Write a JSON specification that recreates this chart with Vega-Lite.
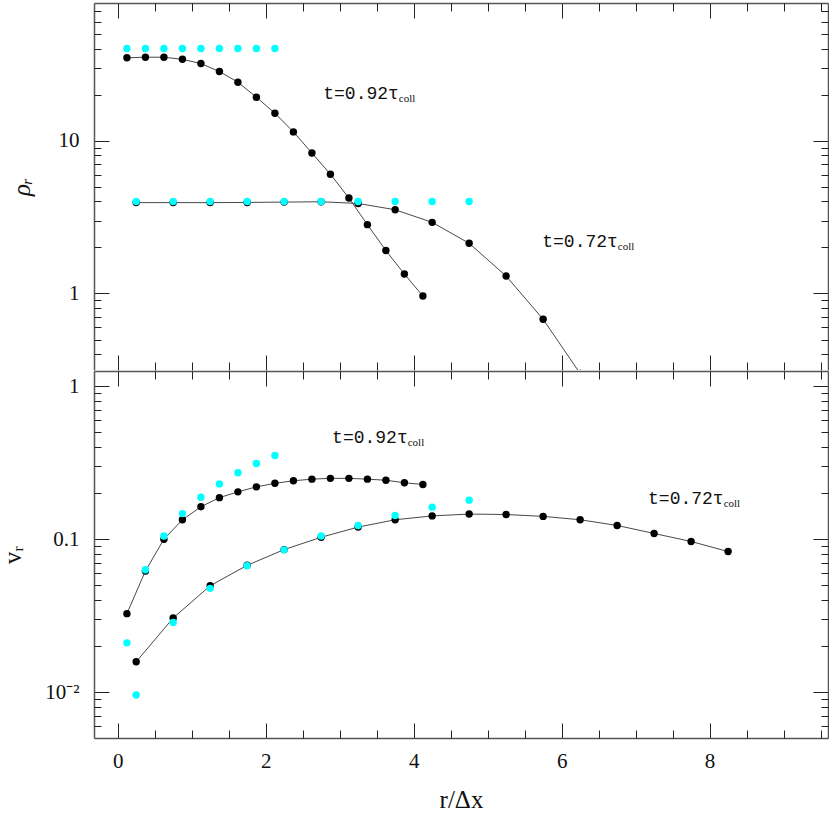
{
  "$schema": "https://vega.github.io/schema/vega-lite/v6.json",
  "padding": {"left": 0, "top": 2, "right": 0, "bottom": 0},
  "background": "white",
  "spacing": -2,
  "config": {
    "view": {"stroke": null},
    "axis": {
      "domainColor": "#555",
      "domainWidth": 1.5,
      "tickColor": "#222",
      "tickWidth": 1,
      "grid": false,
      "labelFont": "Liberation Serif",
      "labelFontSize": 21,
      "labelColor": "#111",
      "titleFont": "Liberation Serif",
      "titleFontSize": 25,
      "titleFontWeight": "normal",
      "titleColor": "#111"
    }
  },
  "datasets": {
    "pts": [
      {"panel": "rho", "t": "0.92", "kind": "sim", "r": 0.125, "val": 34.8},
      {"panel": "rho", "t": "0.92", "kind": "sim", "r": 0.375, "val": 35.1},
      {"panel": "rho", "t": "0.92", "kind": "sim", "r": 0.625, "val": 35.1},
      {"panel": "rho", "t": "0.92", "kind": "sim", "r": 0.875, "val": 34.0},
      {"panel": "rho", "t": "0.92", "kind": "sim", "r": 1.125, "val": 31.9},
      {"panel": "rho", "t": "0.92", "kind": "sim", "r": 1.375, "val": 28.3},
      {"panel": "rho", "t": "0.92", "kind": "sim", "r": 1.625, "val": 24.1},
      {"panel": "rho", "t": "0.92", "kind": "sim", "r": 1.875, "val": 19.2},
      {"panel": "rho", "t": "0.92", "kind": "sim", "r": 2.125, "val": 15.1},
      {"panel": "rho", "t": "0.92", "kind": "sim", "r": 2.375, "val": 11.4},
      {"panel": "rho", "t": "0.92", "kind": "sim", "r": 2.625, "val": 8.3},
      {"panel": "rho", "t": "0.92", "kind": "sim", "r": 2.875, "val": 6.03},
      {"panel": "rho", "t": "0.92", "kind": "sim", "r": 3.125, "val": 4.21},
      {"panel": "rho", "t": "0.92", "kind": "sim", "r": 3.375, "val": 2.82},
      {"panel": "rho", "t": "0.92", "kind": "sim", "r": 3.625, "val": 1.91},
      {"panel": "rho", "t": "0.92", "kind": "sim", "r": 3.875, "val": 1.34},
      {"panel": "rho", "t": "0.92", "kind": "sim", "r": 4.125, "val": 0.962},
      {"panel": "rho", "t": "0.72", "kind": "sim", "r": 0.25, "val": 3.93},
      {"panel": "rho", "t": "0.72", "kind": "sim", "r": 0.75, "val": 3.93},
      {"panel": "rho", "t": "0.72", "kind": "sim", "r": 1.25, "val": 3.93},
      {"panel": "rho", "t": "0.72", "kind": "sim", "r": 1.75, "val": 3.94},
      {"panel": "rho", "t": "0.72", "kind": "sim", "r": 2.25, "val": 3.96},
      {"panel": "rho", "t": "0.72", "kind": "sim", "r": 2.75, "val": 3.98},
      {"panel": "rho", "t": "0.72", "kind": "sim", "r": 3.25, "val": 3.88},
      {"panel": "rho", "t": "0.72", "kind": "sim", "r": 3.75, "val": 3.53},
      {"panel": "rho", "t": "0.72", "kind": "sim", "r": 4.25, "val": 2.92},
      {"panel": "rho", "t": "0.72", "kind": "sim", "r": 4.75, "val": 2.13},
      {"panel": "rho", "t": "0.72", "kind": "sim", "r": 5.25, "val": 1.3},
      {"panel": "rho", "t": "0.72", "kind": "sim", "r": 5.75, "val": 0.678},
      {"panel": "rho", "t": "0.72", "kind": "sim", "r": 6.25, "val": 0.3},
      {"panel": "rho", "t": "0.92", "kind": "analytic", "r": 0.125, "val": 40},
      {"panel": "rho", "t": "0.92", "kind": "analytic", "r": 0.375, "val": 40},
      {"panel": "rho", "t": "0.92", "kind": "analytic", "r": 0.625, "val": 40},
      {"panel": "rho", "t": "0.92", "kind": "analytic", "r": 0.875, "val": 40},
      {"panel": "rho", "t": "0.92", "kind": "analytic", "r": 1.125, "val": 40},
      {"panel": "rho", "t": "0.92", "kind": "analytic", "r": 1.375, "val": 40},
      {"panel": "rho", "t": "0.92", "kind": "analytic", "r": 1.625, "val": 40},
      {"panel": "rho", "t": "0.92", "kind": "analytic", "r": 1.875, "val": 40},
      {"panel": "rho", "t": "0.92", "kind": "analytic", "r": 2.125, "val": 40},
      {"panel": "rho", "t": "0.72", "kind": "analytic", "r": 0.25, "val": 4.0},
      {"panel": "rho", "t": "0.72", "kind": "analytic", "r": 0.75, "val": 4.0},
      {"panel": "rho", "t": "0.72", "kind": "analytic", "r": 1.25, "val": 4.0},
      {"panel": "rho", "t": "0.72", "kind": "analytic", "r": 1.75, "val": 4.0},
      {"panel": "rho", "t": "0.72", "kind": "analytic", "r": 2.25, "val": 4.0},
      {"panel": "rho", "t": "0.72", "kind": "analytic", "r": 2.75, "val": 4.0},
      {"panel": "rho", "t": "0.72", "kind": "analytic", "r": 3.25, "val": 4.0},
      {"panel": "rho", "t": "0.72", "kind": "analytic", "r": 3.75, "val": 4.0},
      {"panel": "rho", "t": "0.72", "kind": "analytic", "r": 4.25, "val": 4.0},
      {"panel": "rho", "t": "0.72", "kind": "analytic", "r": 4.75, "val": 4.0},
      {"panel": "v", "t": "0.92", "kind": "sim", "r": 0.125, "val": 0.0326},
      {"panel": "v", "t": "0.92", "kind": "sim", "r": 0.375, "val": 0.062},
      {"panel": "v", "t": "0.92", "kind": "sim", "r": 0.625, "val": 0.1},
      {"panel": "v", "t": "0.92", "kind": "sim", "r": 0.875, "val": 0.134},
      {"panel": "v", "t": "0.92", "kind": "sim", "r": 1.125, "val": 0.163},
      {"panel": "v", "t": "0.92", "kind": "sim", "r": 1.375, "val": 0.187},
      {"panel": "v", "t": "0.92", "kind": "sim", "r": 1.625, "val": 0.204},
      {"panel": "v", "t": "0.92", "kind": "sim", "r": 1.875, "val": 0.22},
      {"panel": "v", "t": "0.92", "kind": "sim", "r": 2.125, "val": 0.232},
      {"panel": "v", "t": "0.92", "kind": "sim", "r": 2.375, "val": 0.241},
      {"panel": "v", "t": "0.92", "kind": "sim", "r": 2.625, "val": 0.247},
      {"panel": "v", "t": "0.92", "kind": "sim", "r": 2.875, "val": 0.25},
      {"panel": "v", "t": "0.92", "kind": "sim", "r": 3.125, "val": 0.25},
      {"panel": "v", "t": "0.92", "kind": "sim", "r": 3.375, "val": 0.247},
      {"panel": "v", "t": "0.92", "kind": "sim", "r": 3.625, "val": 0.243},
      {"panel": "v", "t": "0.92", "kind": "sim", "r": 3.875, "val": 0.234},
      {"panel": "v", "t": "0.92", "kind": "sim", "r": 4.125, "val": 0.228},
      {"panel": "v", "t": "0.72", "kind": "sim", "r": 0.25, "val": 0.0158},
      {"panel": "v", "t": "0.72", "kind": "sim", "r": 0.75, "val": 0.0305},
      {"panel": "v", "t": "0.72", "kind": "sim", "r": 1.25, "val": 0.0496},
      {"panel": "v", "t": "0.72", "kind": "sim", "r": 1.75, "val": 0.0675},
      {"panel": "v", "t": "0.72", "kind": "sim", "r": 2.25, "val": 0.0855},
      {"panel": "v", "t": "0.72", "kind": "sim", "r": 2.75, "val": 0.103},
      {"panel": "v", "t": "0.72", "kind": "sim", "r": 3.25, "val": 0.12},
      {"panel": "v", "t": "0.72", "kind": "sim", "r": 3.75, "val": 0.134},
      {"panel": "v", "t": "0.72", "kind": "sim", "r": 4.25, "val": 0.142},
      {"panel": "v", "t": "0.72", "kind": "sim", "r": 4.75, "val": 0.146},
      {"panel": "v", "t": "0.72", "kind": "sim", "r": 5.25, "val": 0.145},
      {"panel": "v", "t": "0.72", "kind": "sim", "r": 5.75, "val": 0.141},
      {"panel": "v", "t": "0.72", "kind": "sim", "r": 6.25, "val": 0.134},
      {"panel": "v", "t": "0.72", "kind": "sim", "r": 6.75, "val": 0.123},
      {"panel": "v", "t": "0.72", "kind": "sim", "r": 7.25, "val": 0.109},
      {"panel": "v", "t": "0.72", "kind": "sim", "r": 7.75, "val": 0.0966},
      {"panel": "v", "t": "0.72", "kind": "sim", "r": 8.25, "val": 0.083},
      {"panel": "v", "t": "0.92", "kind": "analytic", "r": 0.125, "val": 0.021},
      {"panel": "v", "t": "0.92", "kind": "analytic", "r": 0.375, "val": 0.0631},
      {"panel": "v", "t": "0.92", "kind": "analytic", "r": 0.625, "val": 0.105},
      {"panel": "v", "t": "0.92", "kind": "analytic", "r": 0.875, "val": 0.147},
      {"panel": "v", "t": "0.92", "kind": "analytic", "r": 1.125, "val": 0.188},
      {"panel": "v", "t": "0.92", "kind": "analytic", "r": 1.375, "val": 0.23},
      {"panel": "v", "t": "0.92", "kind": "analytic", "r": 1.625, "val": 0.272},
      {"panel": "v", "t": "0.92", "kind": "analytic", "r": 1.875, "val": 0.313},
      {"panel": "v", "t": "0.92", "kind": "analytic", "r": 2.125, "val": 0.353},
      {"panel": "v", "t": "0.72", "kind": "analytic", "r": 0.25, "val": 0.00957},
      {"panel": "v", "t": "0.72", "kind": "analytic", "r": 0.75, "val": 0.0285},
      {"panel": "v", "t": "0.72", "kind": "analytic", "r": 1.25, "val": 0.0477},
      {"panel": "v", "t": "0.72", "kind": "analytic", "r": 1.75, "val": 0.067},
      {"panel": "v", "t": "0.72", "kind": "analytic", "r": 2.25, "val": 0.0852},
      {"panel": "v", "t": "0.72", "kind": "analytic", "r": 2.75, "val": 0.105},
      {"panel": "v", "t": "0.72", "kind": "analytic", "r": 3.25, "val": 0.123},
      {"panel": "v", "t": "0.72", "kind": "analytic", "r": 3.75, "val": 0.143},
      {"panel": "v", "t": "0.72", "kind": "analytic", "r": 4.25, "val": 0.162},
      {"panel": "v", "t": "0.72", "kind": "analytic", "r": 4.75, "val": 0.18}
    ],
    "labels": [
      {"panel": "rho", "x": 3.8, "y": 18.6, "main": "t=0.92τ", "sub": "coll"},
      {"panel": "rho", "x": 6.76, "y": 2.016, "main": "t=0.72τ", "sub": "coll"},
      {"panel": "v", "x": 3.92, "y": 0.425, "main": "t=0.92τ", "sub": "coll"},
      {"panel": "v", "x": 8.19, "y": 0.17, "main": "t=0.72τ", "sub": "coll"}
    ]
  },
  "vconcat": [
    {
      "width": 734,
      "height": 367,
      "layer": [
        {
          "data": {"name": "pts"},
          "transform": [{"filter": "datum.panel == 'rho' && datum.kind == 'sim'"}],
          "mark": {"type": "line", "color": "#333", "strokeWidth": 0.9, "clip": true},
          "encoding": {
            "x": {"field": "r", "type": "quantitative", "scale": {"domain": [-0.32, 9.6], "nice": false, "zero": false},
              "axis": {"orient": "bottom", "title": null, "labels": false, "domain": false, "values": [0,2,4,6,8], "tickSize": -15}},
            "y": {"field": "val", "type": "quantitative", "scale": {"type": "log", "domain": [0.316, 79.4], "nice": false},
              "axis": {"orient": "left", "title": "ρᵣ", "titleFontStyle": "italic", "titlePadding": 24,
                "values": [1, 10], "format": "~g", "labelPadding": 30, "tickSize": -15}},
            "detail": {"field": "t"}
          }
        },
        {
          "data": {"name": "pts"},
          "transform": [{"filter": "datum.panel == 'rho'"}],
          "mark": {"type": "circle", "size": 55, "opacity": 1, "clip": true},
          "encoding": {
            "x": {"field": "r", "type": "quantitative", "scale": {"domain": [-0.32, 9.6], "nice": false, "zero": false},
              "axis": {"orient": "top", "title": null, "labels": false, "values": [0,2,4,6,8], "tickSize": -15}},
            "y": {"field": "val", "type": "quantitative", "scale": {"type": "log", "domain": [0.316, 79.4], "nice": false},
              "axis": {"orient": "right", "title": null, "labels": false, "values": [1, 10], "tickSize": -15}},
            "color": {"field": "kind", "type": "nominal", "scale": {"domain": ["sim", "analytic"], "range": ["#000000", "#00FFFF"]}, "legend": null}
          }
        },
        {
          "data": {"name": "labels"},
          "transform": [{"filter": "datum.panel == 'rho'"}],
          "mark": {"type": "text", "font": "Liberation Mono", "fontSize": 18, "align": "right", "baseline": "alphabetic", "color": "#111"},
          "encoding": {
            "x": {"field": "x", "type": "quantitative", "scale": {"domain": [-0.32, 9.6], "nice": false, "zero": false},
              "axis": {"orient": "bottom", "title": null, "labels": false, "domain": false, "values": [0.5,1,1.5,2.5,3,3.5,4.5,5,5.5,6.5,7,7.5,8.5,9,9.5], "tickSize": -8}},
            "y": {"field": "y", "type": "quantitative", "scale": {"type": "log", "domain": [0.316, 79.4], "nice": false},
              "axis": {"orient": "left", "title": null, "labels": false, "domain": false, "values": [0.4,0.5,0.6,0.7,0.8,0.9,2,3,4,5,6,7,8,9,20,30,40,50,60,70], "tickSize": -7}},
            "text": {"field": "main"}
          }
        },
        {
          "data": {"name": "labels"},
          "transform": [{"filter": "datum.panel == 'rho'"}],
          "mark": {"type": "text", "font": "Liberation Serif", "fontSize": 11, "align": "left", "baseline": "alphabetic", "dy": 3, "color": "#111"},
          "encoding": {
            "x": {"field": "x", "type": "quantitative", "scale": {"domain": [-0.32, 9.6], "nice": false, "zero": false},
              "axis": {"orient": "top", "title": null, "labels": false, "domain": false, "values": [0.5,1,1.5,2.5,3,3.5,4.5,5,5.5,6.5,7,7.5,8.5,9,9.5], "tickSize": -8}},
            "y": {"field": "y", "type": "quantitative", "scale": {"type": "log", "domain": [0.316, 79.4], "nice": false},
              "axis": {"orient": "right", "title": null, "labels": false, "domain": false, "values": [0.4,0.5,0.6,0.7,0.8,0.9,2,3,4,5,6,7,8,9,20,30,40,50,60,70], "tickSize": -7}},
            "text": {"field": "sub"}
          }
        }
      ],
      "resolve": {"axis": {"x": "independent", "y": "independent"}}
    },
    {
      "width": 734,
      "height": 367,
      "layer": [
        {
          "data": {"name": "pts"},
          "transform": [{"filter": "datum.panel == 'v' && datum.kind == 'sim'"}],
          "mark": {"type": "line", "color": "#333", "strokeWidth": 0.9, "clip": true},
          "encoding": {
            "x": {"field": "r", "type": "quantitative", "scale": {"domain": [-0.32, 9.6], "nice": false, "zero": false},
              "axis": {"orient": "bottom", "title": "r/Δx", "titlePadding": 16, "values": [0,2,4,6,8], "format": "d", "labelPadding": 27, "tickSize": -15}},
            "y": {"field": "val", "type": "quantitative", "scale": {"type": "log", "domain": [0.00501, 1.259], "nice": false},
              "axis": {"orient": "left", "title": "vᵣ", "titlePadding": 19, "values": [0.01, 0.1, 1],
                "labelExpr": "datum.value == 1 ? '1' : datum.value == 0.1 ? '0.1' : '10⁻²'",
                "labelPadding": 30, "tickSize": -15}},
            "detail": {"field": "t"}
          }
        },
        {
          "data": {"name": "pts"},
          "transform": [{"filter": "datum.panel == 'v'"}],
          "mark": {"type": "circle", "size": 55, "opacity": 1, "clip": true},
          "encoding": {
            "x": {"field": "r", "type": "quantitative", "scale": {"domain": [-0.32, 9.6], "nice": false, "zero": false},
              "axis": {"orient": "top", "title": null, "labels": false, "values": [0,2,4,6,8], "tickSize": -15}},
            "y": {"field": "val", "type": "quantitative", "scale": {"type": "log", "domain": [0.00501, 1.259], "nice": false},
              "axis": {"orient": "right", "title": null, "labels": false, "values": [0.01, 0.1, 1], "tickSize": -15}},
            "color": {"field": "kind", "type": "nominal", "scale": {"domain": ["sim", "analytic"], "range": ["#000000", "#00FFFF"]}, "legend": null}
          }
        },
        {
          "data": {"name": "labels"},
          "transform": [{"filter": "datum.panel == 'v'"}],
          "mark": {"type": "text", "font": "Liberation Mono", "fontSize": 18, "align": "right", "baseline": "alphabetic", "color": "#111"},
          "encoding": {
            "x": {"field": "x", "type": "quantitative", "scale": {"domain": [-0.32, 9.6], "nice": false, "zero": false},
              "axis": {"orient": "bottom", "title": null, "labels": false, "domain": false, "values": [0.5,1,1.5,2.5,3,3.5,4.5,5,5.5,6.5,7,7.5,8.5,9,9.5], "tickSize": -8}},
            "y": {"field": "y", "type": "quantitative", "scale": {"type": "log", "domain": [0.00501, 1.259], "nice": false},
              "axis": {"orient": "left", "title": null, "labels": false, "domain": false, "values": [0.006,0.007,0.008,0.009,0.02,0.03,0.04,0.05,0.06,0.07,0.08,0.09,0.2,0.3,0.4,0.5,0.6,0.7,0.8,0.9], "tickSize": -7}},
            "text": {"field": "main"}
          }
        },
        {
          "data": {"name": "labels"},
          "transform": [{"filter": "datum.panel == 'v'"}],
          "mark": {"type": "text", "font": "Liberation Serif", "fontSize": 11, "align": "left", "baseline": "alphabetic", "dy": 3, "color": "#111"},
          "encoding": {
            "x": {"field": "x", "type": "quantitative", "scale": {"domain": [-0.32, 9.6], "nice": false, "zero": false},
              "axis": {"orient": "top", "title": null, "labels": false, "domain": false, "values": [0.5,1,1.5,2.5,3,3.5,4.5,5,5.5,6.5,7,7.5,8.5,9,9.5], "tickSize": -8}},
            "y": {"field": "y", "type": "quantitative", "scale": {"type": "log", "domain": [0.00501, 1.259], "nice": false},
              "axis": {"orient": "right", "title": null, "labels": false, "domain": false, "values": [0.006,0.007,0.008,0.009,0.02,0.03,0.04,0.05,0.06,0.07,0.08,0.09,0.2,0.3,0.4,0.5,0.6,0.7,0.8,0.9], "tickSize": -7}},
            "text": {"field": "sub"}
          }
        }
      ],
      "resolve": {"axis": {"x": "independent", "y": "independent"}}
    }
  ]
}
